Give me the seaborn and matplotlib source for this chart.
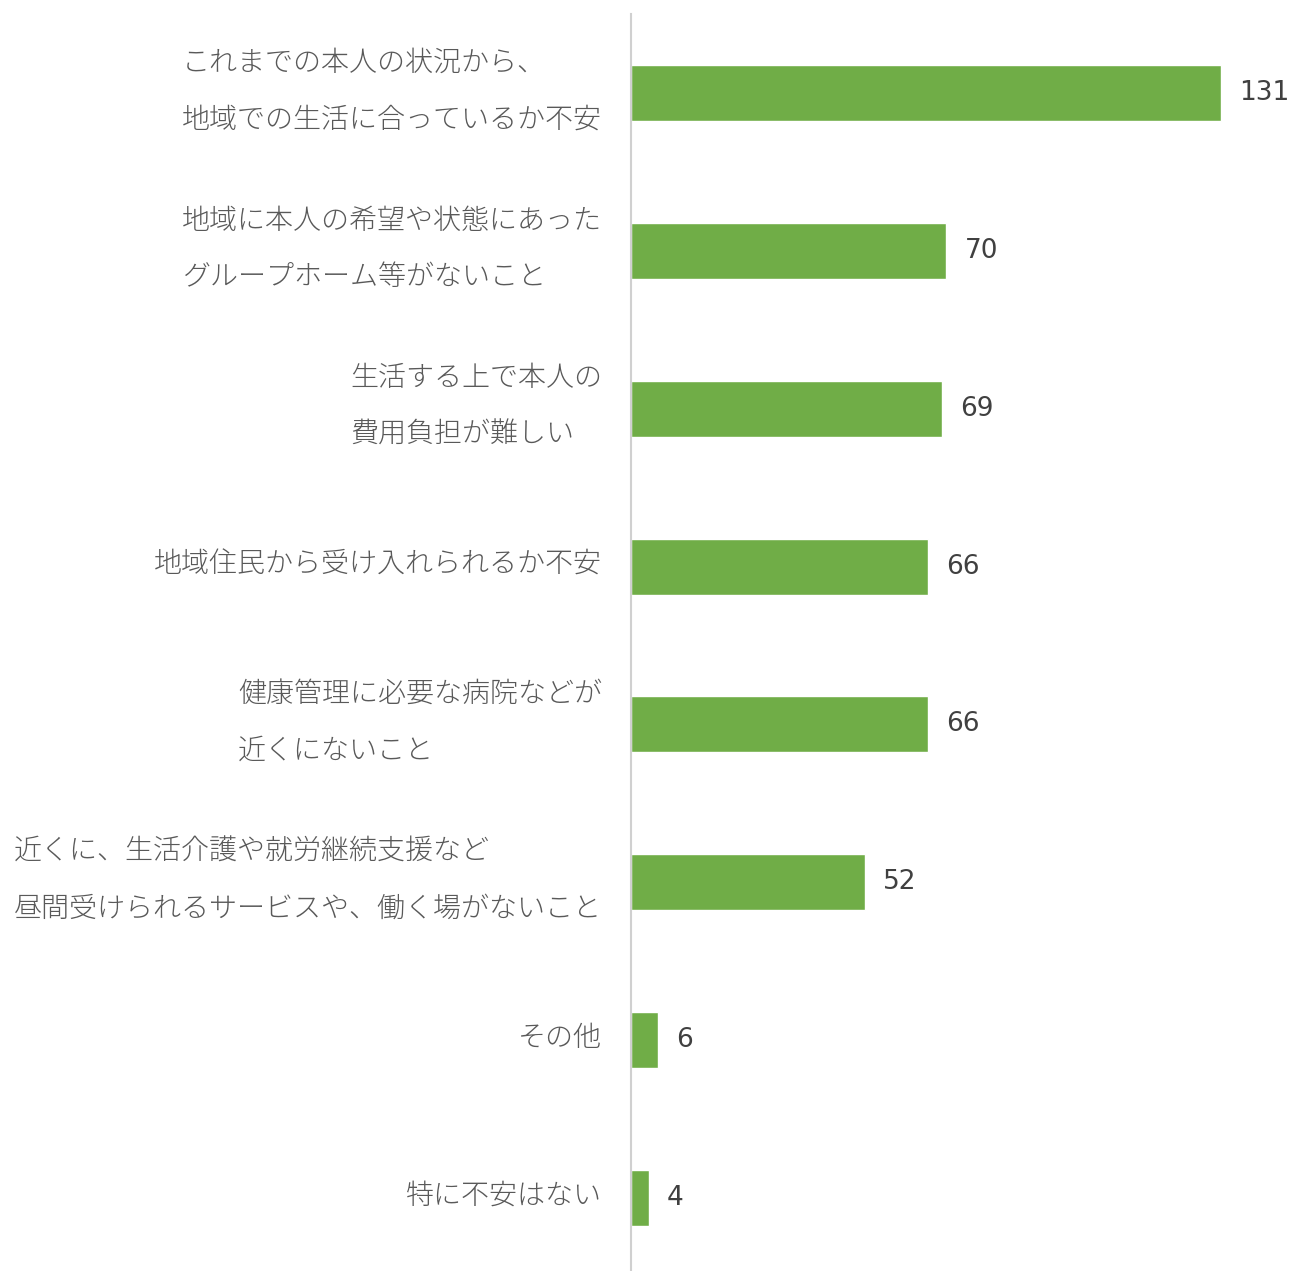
import matplotlib
matplotlib.use("Agg")
import matplotlib.pyplot as plt
import matplotlib.transforms as mtransforms
import seaborn as sns
import pandas as pd

categories = [
    "これまでの本人の状況から、\n地域での生活に合っているか不安",
    "地域に本人の希望や状態にあった\nグループホーム等がないこと",
    "生活する上で本人の\n費用負担が難しい",
    "地域住民から受け入れられるか不安",
    "健康管理に必要な病院などが\n近くにないこと",
    "近くに、生活介護や就労継続支援など\n昼間受けられるサービスや、働く場がないこと",
    "その他",
    "特に不安はない",
]
counts = [131, 70, 69, 66, 66, 52, 6, 4]

sns.set_theme(style="white")
plt.rcParams["font.family"] = ["Noto Sans CJK JP", "DejaVu Sans"]

df = pd.DataFrame({"item": categories, "count": counts})

W, H = 1291, 1271
fig = plt.figure(figsize=(W / 100, H / 100), dpi=100)
ax = fig.add_axes([631 / W, (H - 1277) / H, 1 - 631 / W, (1277 - 14) / H])

sns.barplot(data=df, y="item", x="count", orient="h", color="#70AD47",
            width=0.355, saturation=1, ax=ax)

ax.set_xlim(0, 146.5)
ax.set_ylim(7.5, -0.5)
ax.set_xlabel("")
ax.set_ylabel("")
ax.set_xticks([])
ax.set_yticks(range(len(categories)))
ax.set_yticklabels([])

for s in ["top", "right", "bottom"]:
    ax.spines[s].set_visible(False)
ax.spines["left"].set_color("#d0d0d0")
ax.spines["left"].set_linewidth(1.5)
ax.tick_params(axis="y", length=0)

# category labels: block right-aligned left of the axis, lines left-aligned
label_tf = ax.get_yaxis_transform() + mtransforms.ScaledTranslation(-29 / 100, 2 / 100, fig.dpi_scale_trans)
for i, name in enumerate(categories):
    ax.text(0, i, name, transform=label_tf, ha="right", va="center",
            multialignment="left", linespacing=2.3, fontsize=20.2,
            color="#595959", fontweight="light")

for i, v in enumerate(counts):
    ax.annotate(str(v), xy=(v, i), xytext=(13, 0), textcoords="offset points",
                va="center", ha="left", fontsize=19, color="#404040",
                family="DejaVu Sans")

fig.savefig("out.png", dpi=100)
